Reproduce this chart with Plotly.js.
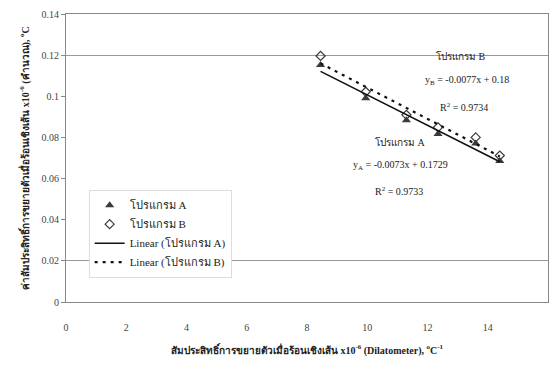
<!DOCTYPE html>
<html>
<head>
<meta charset="utf-8">
<script src="https://cdn.plot.ly/plotly-3.0.1.min.js"></script>
<style>html,body{margin:0;padding:0;background:#fff;}#chart{width:551px;height:365px;}</style>
</head>
<body>
<div id="chart"></div>
<script>
// Data
const xDilatometer = [8.45, 9.95, 11.3, 12.35, 13.6, 14.4];
const yProgramA = [0.1152, 0.0990, 0.0884, 0.0817, 0.0771, 0.0685];
const yProgramB = [0.1196, 0.1022, 0.0910, 0.0849, 0.0800, 0.0712];
const seriesNames = ["โปรแกรม A", "โปรแกรม B", "Linear (โปรแกรม A)", "Linear (โปรแกรม B)"];
const gridValues = [0.02, 0.12];
const yTicks = [0, 0.02, 0.04, 0.06, 0.08, 0.1, 0.12, 0.14];
const yTickText = ["0", "0.02", "0.04", "0.06", "0.08", "0.1", "0.12", "0.14"];
const xTicks = [0, 2, 4, 6, 8, 10, 12, 14, 16];

function linfit(xs, ys) {
  const n = xs.length;
  const mx = xs.reduce((a, b) => a + b, 0) / n;
  const my = ys.reduce((a, b) => a + b, 0) / n;
  let sxy = 0, sxx = 0;
  for (let i = 0; i < n; i++) { sxy += (xs[i] - mx) * (ys[i] - my); sxx += (xs[i] - mx) ** 2; }
  const m = sxy / sxx, c = my - m * mx;
  const xe = [Math.min(...xs), Math.max(...xs)];
  return { x: xe, y: xe.map(v => m * v + c) };
}
const fitA = linfit(xDilatometer, yProgramA);
const fitB = linfit(xDilatometer, yProgramB);

const serif = "Liberation Serif, Times New Roman, serif";

const traces = [
  { x: xDilatometer, y: yProgramA, name: seriesNames[0], mode: "markers", type: "scatter",
    marker: { symbol: "triangle-up", size: 8, color: "#3a3a3a" } },
  { x: xDilatometer, y: yProgramB, name: seriesNames[1], mode: "markers", type: "scatter",
    marker: { symbol: "diamond-open", size: 7, color: "#3a3a3a", line: { width: 1.2 } } },
  { x: fitA.x, y: fitA.y, name: seriesNames[2], mode: "lines", type: "scatter",
    line: { color: "#111", width: 1.6 } },
  { x: fitB.x, y: fitB.y, name: seriesNames[3], mode: "lines", type: "scatter",
    line: { color: "#111", width: 2.2, dash: "3px,5px" } },
  // helper for the two horizontal gridlines
  { x: [0], y: [0], xaxis: "x", yaxis: "y2", mode: "markers", marker: { opacity: 0 },
    showlegend: false, hoverinfo: "skip" }
];

const ann = (x, y, text) => ({ x, y, xref: "x", yref: "y", text, showarrow: false,
  font: { family: serif, size: 10, color: "#222" } });

const layout = {
  width: 551, height: 365,
  margin: { l: 66, r: 3, t: 14, b: 63 },
  paper_bgcolor: "#fff", plot_bgcolor: "#fff",
  font: { family: serif, size: 10, color: "#333" },
  showlegend: true,
  legend: {
    x: 0.047, y: 0.39, xanchor: "left", yanchor: "top",
    bgcolor: "#fff", bordercolor: "#ddd", borderwidth: 1,
    font: { family: serif, size: 11, color: "#222" },
    tracegroupgap: 0, itemwidth: 30
  },
  xaxis: {
    range: [0, 16], tickvals: xTicks, ticktext: xTicks.map(String),
    showgrid: false, zeroline: false, showline: true, linecolor: "#888", linewidth: 1,
    mirror: true, ticks: "outside", ticklen: 16, tickcolor: "rgba(0,0,0,0)",
    tickfont: { family: serif, size: 10, color: "#444" },
    title: { text: "<b>สัมประสิทธิ์การขยายตัวเมื่อร้อนเชิงเส้น x10<sup>-6</sup> (Dilatometer), <sup>o</sup>C<sup>-1</sup></b>",
      font: { family: serif, size: 10, color: "#222" }, standoff: 14 }
  },
  yaxis: {
    range: [0, 0.14], tickvals: yTicks, ticktext: yTickText,
    showgrid: false, zeroline: false, showline: true, linecolor: "#888", linewidth: 1,
    mirror: true, ticks: "outside", ticklen: 4, tickcolor: "#888",
    tickfont: { family: serif, size: 10, color: "#444" },
    title: { text: "<b>ค่าสัมประสิทธิ์การขยายตัวเมื่อร้อนเชิงเส้น x10<sup>-6</sup> (คำนวณ), <sup>o</sup>C</b>",
      font: { family: serif, size: 10, color: "#222" }, standoff: 10 }
  },
  yaxis2: {
    overlaying: "y", range: [0, 0.14], tickvals: gridValues, showticklabels: false,
    showgrid: true, gridcolor: "#999", gridwidth: 1, zeroline: false, showline: false, side: "left"
  },
  annotations: [
    ann(13.1, 0.1195, "โปรแกรม B"),
    ann(13.3, 0.1075, "y<sub>B</sub> = -0.0077x + 0.18"),
    ann(13.2, 0.0950, "R<sup>2</sup> = 0.9734"),
    ann(11.1, 0.0780, "โปรแกรม A"),
    ann(11.1, 0.0665, "y<sub>A</sub> = -0.0073x + 0.1729"),
    ann(11.05, 0.0540, "R<sup>2</sup> = 0.9733")
  ]
};

Plotly.newPlot("chart", traces, layout, { displayModeBar: false, staticPlot: true });
</script>
</body>
</html>
